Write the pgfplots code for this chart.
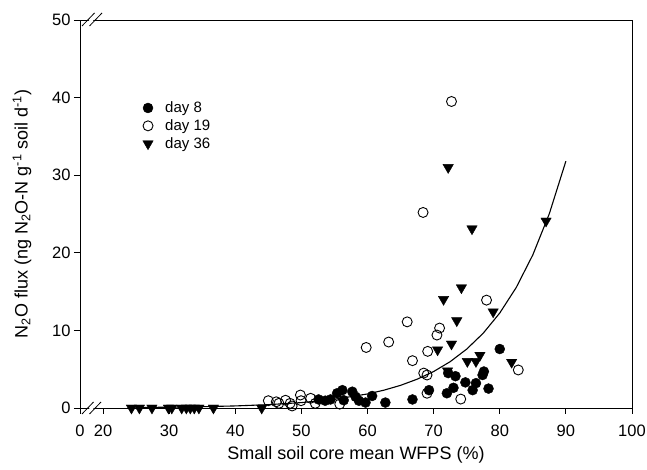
\documentclass[border=0pt]{standalone}
\usepackage{fontspec}
\setmainfont{Liberation Sans}
\usepackage{pgfplots}
\pgfplotsset{compat=1.18}
\begin{document}
\begin{tikzpicture}[x=1pt,y=1pt]
\useasboundingbox (0,0) rectangle (647,470);
\begin{axis}[
  at={(80pt,62pt)}, anchor=south west, scale only axis,
  width=552pt, height=388pt,
  xmin=16.52, xmax=100, ymin=0, ymax=50,
  xtick={16.52,20,30,40,50,60,70,80,90,100},
  xticklabels={0,20,30,40,50,60,70,80,90,100},
  ytick={0,10,20,30,40,50},
  tick align=outside, xtick pos=left, ytick pos=left,
  major tick length=6pt,
  tick style={black, line width=0.8pt},
  axis line style={line width=0.8pt},
  /pgf/number format/assume math mode=true,
  tick label style={font=\fontsize{16.5}{19}\selectfont},
  xticklabel style={yshift=-7pt},
  label style={font=\fontsize{18}{21}\selectfont},
  xlabel={Small soil core mean WFPS (\%)},
  xlabel style={at={(axis description cs:0.5,0)}, anchor=center, yshift=-47pt},
  ylabel={N\textsubscript{2}O flux (ng N\textsubscript{2}O-N g\textsuperscript{-1} soil d\textsuperscript{-1})},
  ylabel style={at={(axis description cs:-0.105,0.5)}, anchor=center},
  clip=false,
  legend style={draw=none, fill=none, at={(0.108,0.80)}, anchor=north west,
    font=\fontsize{15}{18}\selectfont, row sep=1.5pt,
    /tikz/every odd column/.append style={column sep=10pt}},
  legend cell align=left,
]
\addplot[black, line width=1.1pt, forget plot] coordinates {
(25,0.064)(30,0.103)(35,0.166)(40,0.267)(45,0.431)(50,0.696)(55,1.122)(60,1.81)
(62.5,2.30)(65,2.92)(67.5,3.71)(70,4.70)(72.5,5.97)(75,7.59)(77.5,9.64)
(80,12.24)(82.5,15.54)(85,19.73)(87.5,25.05)(90,31.81)};
\addplot[only marks, mark=*, mark size=5pt, mark options={fill=black, draw=black}] coordinates {
(52.6,1.1)(53.6,0.94)(54.4,1.1)(55.4,1.9)(56.2,2.3)(56.4,1.0)(57.7,2.1)(58.2,1.45)
(58.7,0.94)(59.7,0.7)(60.7,1.55)(62.7,0.7)(66.8,1.1)(69.3,2.3)(72.0,1.9)(73.0,2.6)
(72.2,4.5)(73.3,4.1)(74.8,3.3)(76.4,3.2)(75.9,2.3)(77.6,4.7)(77.4,4.25)(78.3,2.5)(80.0,7.6)};
\addlegendentry{day 8}
\addplot[only marks, mark=o, mark size=5pt, mark options={draw=black, line width=0.9pt}] coordinates {
(45.0,0.94)(46.2,0.8)(46.6,0.6)(47.6,1.0)(48.3,0.6)(48.6,0.26)(49.85,1.67)(49.95,0.94)
(51.4,1.25)(52.1,0.6)(55.8,0.5)(59.8,7.8)(63.2,8.5)(66.0,11.1)(66.8,6.1)(68.4,25.2)
(68.5,4.5)(69.0,4.25)(69.0,1.9)(69.1,7.3)(70.5,9.4)(70.9,10.3)(72.7,39.5)(74.1,1.15)
(78.0,13.9)(82.8,4.9)};
\addlegendentry{day 19}
\addplot[only marks, mark=triangle*, mark size=6pt, mark options={fill=black, draw=black, rotate=180}] coordinates {
(24.3,0)(25.5,0)(27.4,0)(29.9,0)(30.4,0)(31.9,0)(32.6,0)(33.2,0)(33.8,0)(34.5,0)(36.7,0)(44.0,0)
(72.2,31.0)(75.8,23.1)(87.0,24.1)(74.2,15.5)(71.5,14.0)(79.0,12.4)(73.5,11.25)(72.7,8.25)
(70.6,7.5)(81.8,5.9)(75.1,6.0)(76.4,6.0)(77.0,6.8)(72.1,4.8)};
\addlegendentry{day 36}
\end{axis}
% axis break marks
\fill[white] (84,56) -- (95.5,68) -- (99.5,68) -- (88,56) -- cycle;
\draw[line width=0.8pt] (82,56) -- (93.5,68);
\draw[line width=0.8pt] (89.5,56) -- (101,68);
\fill[white] (84,444) -- (96,457) -- (100,457) -- (88,444) -- cycle;
\draw[line width=0.8pt] (82,444) -- (94.5,457);
\draw[line width=0.8pt] (89.5,444) -- (102,457);
\end{tikzpicture}
\end{document}
